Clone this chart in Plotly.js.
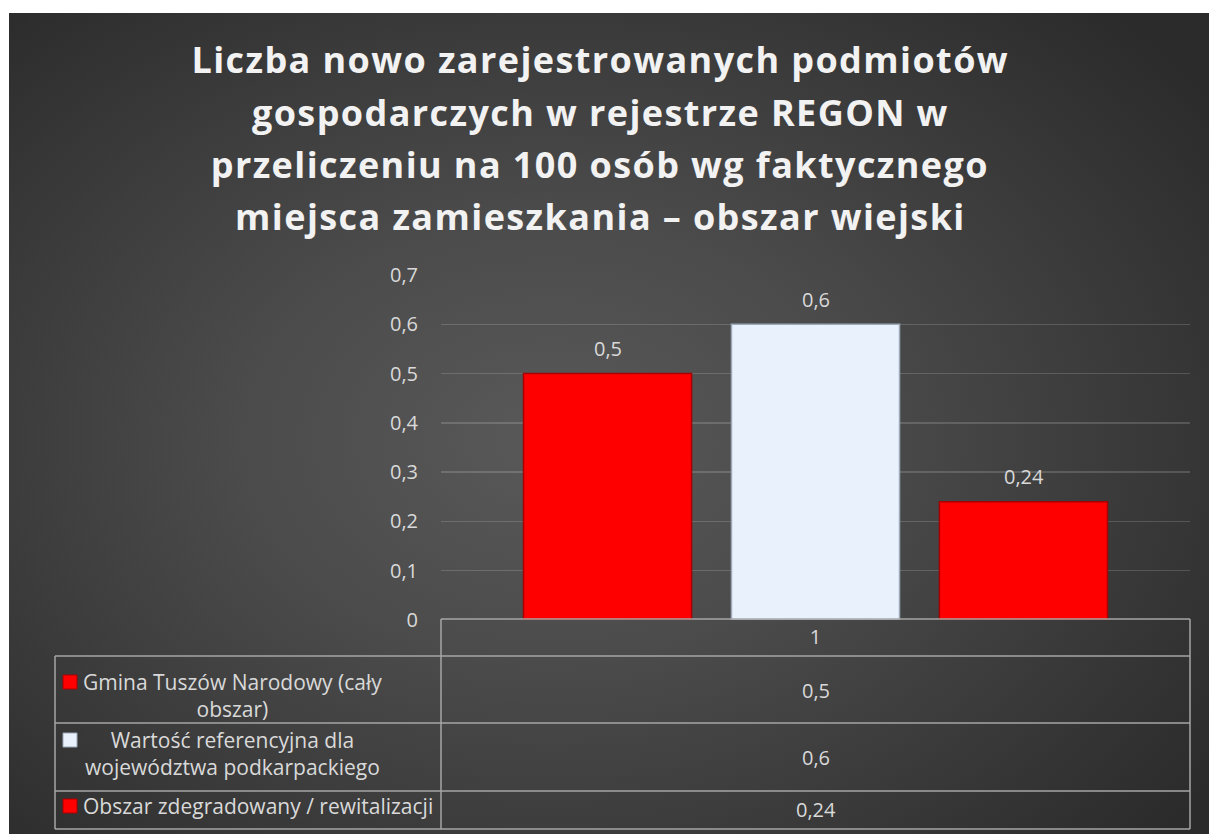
<!DOCTYPE html>
<html>
<head>
<meta charset="utf-8">
<script src="https://cdn.plot.ly/plotly-3.0.1.min.js"></script>
<style>
  html, body { margin: 0; padding: 0; background: #ffffff; }
  #wrap { position: relative; width: 1209px; height: 834px; overflow: hidden; background: #ffffff; }
  #bg { position: absolute; left: 9px; top: 13px; right: 0; bottom: 0;
        background: radial-gradient(ellipse 68% 72% at 45% 52%, #595959 0%, #4b4b4b 38%, #2b2b2b 100%); }
  #chart { position: absolute; left: 0; top: 0; width: 1209px; height: 834px; }
</style>
</head>
<body>
<div id="wrap">
  <div id="bg"></div>
  <div id="chart"></div>
</div>
<script>
// ---- data ----
const categories = ["1"];
const seriesNames = [
  "Gmina Tuszów Narodowy (cały<br>obszar)",
  "Wartość referencyjna dla<br>województwa podkarpackiego",
  "Obszar zdegradowany / rewitalizacji"
];
const seriesValues = [0.5, 0.6, 0.24];
const seriesColors = ["#ff0000", "#e8f1fc", "#ff0000"];
const seriesEdge = ["#a80000", "#9ea9b8", "#a80000"];
const yTickVals = [0, 0.1, 0.2, 0.3, 0.4, 0.5, 0.6, 0.7];
const titleLines = [
  "Liczba nowo zarejestrowanych podmiotów",
  "gospodarczych w rejestrze REGON w",
  "przeliczeniu na 100 osób wg faktycznego",
  "miejsca zamieszkania – obszar wiejski"
];

// ---- layout geometry (pixels) ----
const W = 1209, H = 834;
const plotL = 441, plotR = 1190, plotT = 275, plotB = 620;
const px2x = p => (p - plotL) / (plotR - plotL);
const px2y = p => (plotB - p) / (plotB - plotT);
const tableLeft = 55;
const rowLines = [656, 723, 791, 829];
const tableTop = 619;
const rowLabelMid = [695, 753, 806];
const rowMarkerY = [682, 740, 806];
const rowValueY = [690, 757.5, 809.5];
const labelCenterX = [232, 232, 258];
const markerX = 63, markerSize = 14;
const titleX = 600, titleFirstMid = 60, titleGap = 52.3;
const groupSlot = 208;

const fmt = v => String(v).replace('.', ',');
const txtColor = "#d9d9d9";
const lineColor = "#a6a6a6";
const catIndex = categories.indexOf(categories[0]);

const traces = seriesValues.map((v, i) => ({
  type: "bar",
  x: categories,
  y: [v],
  name: seriesNames[i],
  marker: { color: seriesColors[i], line: { color: seriesEdge[i], width: 1.5 } },
  hoverinfo: "skip",
  showlegend: false
}));

const shapes = [];
const annotations = [];

// title lines
titleLines.forEach((t, k) => annotations.push({
  xref: "paper", yref: "paper", x: px2x(titleX), y: px2y(titleFirstMid + k * titleGap),
  text: t, showarrow: false, xanchor: "center", yanchor: "middle",
  font: { family: "Open Sans", size: 36, color: "#f2f2f2", weight: 700 }
}));
const nTitle = annotations.length;

// table grid
shapes.push({ type: "line", xref: "paper", yref: "paper",
  x0: px2x(plotL), x1: px2x(plotR), y0: px2y(tableTop), y1: px2y(tableTop),
  line: { color: lineColor, width: 1.5 } });
rowLines.forEach(r => shapes.push({ type: "line", xref: "paper", yref: "paper",
  x0: px2x(tableLeft), x1: px2x(plotR), y0: px2y(r), y1: px2y(r),
  line: { color: lineColor, width: 1.5 } }));
[[plotL, tableTop], [plotR, tableTop], [tableLeft, rowLines[0]]].forEach(([xx, yy]) =>
  shapes.push({ type: "line", xref: "paper", yref: "paper",
    x0: px2x(xx), x1: px2x(xx), y0: px2y(yy), y1: px2y(rowLines[rowLines.length - 1]),
    line: { color: lineColor, width: 1.5 } }));

// legend keys + labels + values
seriesNames.forEach((name, i) => {
  shapes.push({ type: "rect", xref: "paper", yref: "paper",
    x0: px2x(markerX), x1: px2x(markerX + markerSize),
    y0: px2y(rowMarkerY[i] - markerSize / 2), y1: px2y(rowMarkerY[i] + markerSize / 2),
    fillcolor: seriesColors[i], line: { color: seriesEdge[i], width: 1 } });
  annotations.push({
    xref: "paper", yref: "paper", x: px2x(labelCenterX[i]), y: px2y(rowLabelMid[i]),
    text: name, showarrow: false, align: "center", xanchor: "center", yanchor: "middle",
    font: { family: "Open Sans", size: 21, color: txtColor } });
  annotations.push({ xref: "paper", yref: "paper", x: 0.5, y: px2y(rowValueY[i]),
    text: fmt(seriesValues[i]), showarrow: false, xanchor: "center", yanchor: "middle",
    font: { family: "Open Sans", size: 20, color: txtColor } });
  // data labels above bars
  annotations.push({ xref: "x", yref: "y", x: catIndex, y: seriesValues[i],
    xshift: (i - 1) * groupSlot, yshift: 25, text: fmt(seriesValues[i]), showarrow: false,
    xanchor: "center", yanchor: "middle",
    font: { family: "Open Sans", size: 20, color: txtColor } });
});

const layout = {
  width: W, height: H,
  paper_bgcolor: "rgba(0,0,0,0)",
  plot_bgcolor: "rgba(0,0,0,0)",
  separators: ", ",
  margin: { l: plotL, r: W - plotR, t: plotT, b: H - plotB, pad: 0 },
  barmode: "group",
  bargap: 0.167,
  bargroupgap: 0.192,
  xaxis: { type: "category", range: [-0.5, 0.5], showgrid: false, zeroline: false, showline: false, ticks: "",
    tickfont: { family: "Open Sans", size: 20, color: txtColor }, ticklabelstandoff: 3, fixedrange: true },
  yaxis: { range: [0, 0.7], tickvals: yTickVals, ticktext: yTickVals.map(fmt),
    showgrid: true, gridcolor: "rgba(255,255,255,0.16)", gridwidth: 1.5,
    zeroline: false, showline: false, ticks: "",
    tickfont: { family: "Open Sans", size: 20, color: txtColor }, ticklabelstandoff: 22, fixedrange: true },
  shapes: shapes,
  annotations: annotations
};

Plotly.newPlot("chart", traces, layout, { displayModeBar: false, staticPlot: true }).then(gd => {
  for (let k = 0; k < nTitle; k++) {
    const t = gd.querySelector('.annotation[data-index="' + k + '"] text');
    if (t) t.style.letterSpacing = "1.4px";
  }
});
</script>
</body>
</html>
